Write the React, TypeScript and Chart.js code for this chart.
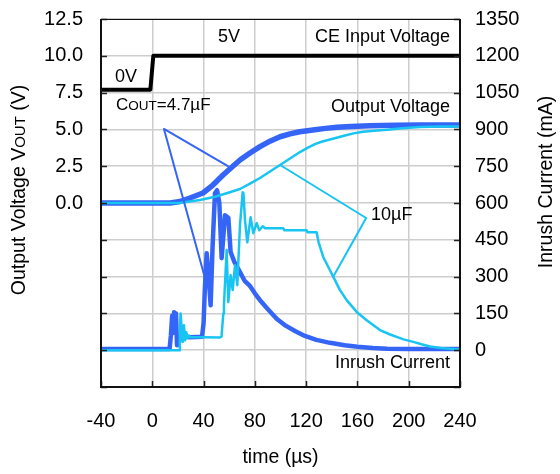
import React, { useEffect, useRef } from 'react';
import { Chart, registerables } from 'chart.js';

Chart.register(...registerables);

// ---------- data ----------
const X_TICKS = [-40, 0, 40, 80, 120, 160, 200, 240];

// CE input voltage (V, left axis)
const CE_T = [-40, -1.5, 0.8, 240];
const CE_V = [7.7, 7.7, 10, 10];

// Output voltage, COUT = 4.7 µF (V, left axis)
const VOUT47_T = [-40, 14, 21.6, 29.4, 39.5, 47.3, 55.2, 62.2, 68.4, 76.2, 84, 91.8, 99.6, 107.4, 115, 125.3, 135, 144, 155, 169.8, 190, 208.8, 240];
const VOUT47_V = [0, 0, 0.1, 0.34, 0.68, 1.22, 1.9, 2.45, 2.92, 3.4, 3.83, 4.2, 4.5, 4.7, 4.84, 4.96, 5.07, 5.15, 5.2, 5.25, 5.28, 5.3, 5.3];

// Output voltage, COUT = 10 µF (V, left axis)
const VOUT10_T = [-40, 21, 37.2, 48.9, 58, 68.4, 76.2, 84, 91.8, 99.6, 107.4, 115.2, 121, 126.9, 132, 138.6, 150.3, 157, 164.4, 173, 183.1, 195, 208.8, 225, 240];
const VOUT10_V = [0, 0, 0.2, 0.42, 0.66, 0.95, 1.32, 1.7, 2.14, 2.58, 3.02, 3.46, 3.75, 4.0, 4.16, 4.31, 4.59, 4.73, 4.84, 4.91, 4.98, 5.08, 5.16, 5.19, 5.2];

// Inrush current, COUT = 4.7 µF (mA, right axis)
const INR47_T = [-40, 13.5, 14.5, 15.5, 16.3, 17, 17.8, 18.5, 19.3, 20.5, 22, 23.5, 30, 38.8, 40, 41, 42.4, 44, 45.5, 47, 48.9, 50.5, 52.3, 54.1, 56.7, 59.3, 61.1, 64, 68.4, 72, 76.2, 80, 84, 90, 97, 104, 112, 119, 128, 138.6, 150, 160, 172, 183, 200, 240];
const INR47_I = [5, 5, 60, 140, 70, 155, 90, 150, 20, 60, 45, 55, 53, 55, 110, 250, 395, 300, 183, 420, 640, 652, 600, 375, 550, 540, 400, 360, 318, 283, 262, 232, 204, 168, 128, 100, 76, 58, 42, 30, 20, 14, 9, 6, 5, 5];

// Inrush current, COUT = 10 µF (mA, right axis)
const INR10_T = [-40, 21, 21.5, 22.1, 22.9, 23.7, 24.7, 25.6, 26.5, 27.5, 28.5, 29.5, 40, 52.8, 54, 55.4, 55.9, 58, 59.3, 61.1, 62.7, 64.5, 66.3, 68.4, 70.5, 71.1, 72.3, 74.1, 76.7, 78.8, 81.4, 83.5, 86.1, 88, 102.2, 103, 120.4, 121, 128.2, 129.7, 133.4, 138.6, 141.2, 146.4, 151.6, 159.4, 167.2, 177.6, 185, 190.6, 196, 203.6, 210, 216.6, 225, 240];
const INR10_I = [0, 0, 80, 150, 90, 33, 102, 40, 73, 50, 60, 53, 53, 52, 55, 150, 183, 408, 196, 306, 245, 346, 265, 510, 644, 640, 530, 440, 542, 477, 518, 489, 505, 497, 497, 489, 489, 481, 481, 440, 379, 326, 299, 245, 204, 156, 122, 82, 65, 54, 44, 34, 24, 15, 9, 3];

// ---------- styling ----------
const FONT = "'Liberation Sans', Arial, Helvetica, sans-serif";
const DARK = '#3565f7';
const CYAN = '#18c4f2';
const GRID = '#cdcdcd';

const pts = (t: number[], v: number[]) => t.map((x, i) => ({ x, y: v[i] }));

// text labels / pointer lines, in data coordinates (t in µs, left-axis volts)
const overlay = {
  id: 'overlay',
  afterDatasetsDraw(chart: any) {
    const ctx = chart.ctx;
    const xs = chart.scales.x;
    const ys = chart.scales.y;
    const px = (t: number) => xs.getPixelForValue(t);
    const py = (v: number) => ys.getPixelForValue(v);
    ctx.save();
    ctx.lineCap = 'round';
    // COUT = 4.7 µF pointers
    ctx.strokeStyle = DARK;
    ctx.lineWidth = 2;
    ctx.beginPath();
    ctx.moveTo(px(9.1), py(5.03));
    ctx.lineTo(px(59.0), py(2.51));
    ctx.moveTo(px(9.1), py(5.03));
    ctx.lineTo(px(41.1), py(-5.1));
    ctx.stroke();
    // 10 µF pointers
    ctx.strokeStyle = CYAN;
    ctx.beginPath();
    ctx.moveTo(px(99.7), py(2.58));
    ctx.lineTo(px(166.8), py(-1.02));
    ctx.lineTo(px(141.0), py(-5.03));
    ctx.stroke();

    ctx.fillStyle = '#000';
    ctx.textBaseline = 'middle';
    ctx.font = `18px ${FONT}`;
    ctx.textAlign = 'left';
    ctx.fillText('5V', px(51.2), py(11.28));
    ctx.fillText('0V', px(-29), py(8.56));
    ctx.fillText('10µF', px(170.6), py(-0.82));
    ctx.textAlign = 'right';
    ctx.fillText('CE Input Voltage', px(232.2), py(11.28));
    ctx.fillText('Output Voltage', px(232.2), py(6.52));
    ctx.fillText('Inrush Current', px(232.2), py(-10.87));

    // COUT=4.7µF with small-caps OUT
    ctx.textAlign = 'left';
    ctx.textBaseline = 'alphabetic';
    let x = px(-28.3);
    const yb = py(6.79) + 6.5;
    ctx.font = `17px ${FONT}`;
    ctx.fillText('C', x, yb);
    x += ctx.measureText('C').width;
    ctx.font = `13.5px ${FONT}`;
    ctx.fillText('OUT', x, yb);
    x += ctx.measureText('OUT').width;
    ctx.font = `17px ${FONT}`;
    ctx.fillText('=4.7µF', x, yb);
    ctx.restore();
  },
  afterDraw(chart: any) {
    const ctx = chart.ctx;
    const { left, right, top, bottom } = chart.chartArea;
    ctx.save();
    // inward tick marks
    ctx.strokeStyle = '#222';
    ctx.lineWidth = 1.5;
    ctx.beginPath();
    chart.scales.y.ticks.forEach((tk: any) => {
      const y = Math.round(chart.scales.y.getPixelForValue(tk.value)) + 0.5;
      ctx.moveTo(left, y);
      ctx.lineTo(left + 6, y);
    });
    chart.scales.y1.ticks.forEach((tk: any) => {
      const y = Math.round(chart.scales.y1.getPixelForValue(tk.value)) + 0.5;
      ctx.moveTo(right - 6, y);
      ctx.lineTo(right, y);
    });
    chart.scales.x.ticks.forEach((tk: any) => {
      const x = Math.round(chart.scales.x.getPixelForValue(tk.value)) + 0.5;
      ctx.moveTo(x, bottom);
      ctx.lineTo(x, bottom - 6);
    });
    ctx.stroke();
    // frame
    ctx.strokeStyle = '#111';
    ctx.lineWidth = 1;
    ctx.beginPath();
    ctx.moveTo(left, top + 0.5);
    ctx.lineTo(right, top + 0.5);
    ctx.stroke();
    ctx.lineWidth = 2;
    ctx.beginPath();
    ctx.moveTo(left, top);
    ctx.lineTo(left, bottom);
    ctx.lineTo(right, bottom);
    ctx.lineTo(right, top);
    ctx.stroke();

    // axis titles
    ctx.fillStyle = '#000';
    ctx.textBaseline = 'middle';
    ctx.save();
    ctx.translate(18, 190);
    ctx.rotate(-Math.PI / 2);
    const f1 = `19.5px ${FONT}`;
    const f2 = `15px ${FONT}`;
    const parts: [string, string][] = [['Output Voltage V', f1], ['OUT', f2], [' (V)', f1]];
    let w = 0;
    parts.forEach(([s, f]) => { ctx.font = f; w += ctx.measureText(s).width; });
    let x = -w / 2;
    ctx.textAlign = 'left';
    ctx.textBaseline = 'alphabetic';
    parts.forEach(([s, f]) => {
      ctx.font = f;
      ctx.fillText(s, x, 7);
      x += ctx.measureText(s).width;
    });
    ctx.restore();
    ctx.save();
    ctx.translate(547, 182);
    ctx.rotate(-Math.PI / 2);
    ctx.font = `19.5px ${FONT}`;
    ctx.textAlign = 'center';
    ctx.fillText('Inrush Current (mA)', 0, 0);
    ctx.restore();
    ctx.font = `19.5px ${FONT}`;
    ctx.textAlign = 'center';
    ctx.fillText('time (µs)', (left + right) / 2, 458);
    ctx.restore();
  },
};

export default function App() {
  const ref = useRef<HTMLCanvasElement>(null);
  useEffect(() => {
    const tickFont = { family: FONT, size: 20 };
    const chart = new Chart(ref.current as HTMLCanvasElement, {
      type: 'line',
      data: {
        datasets: [
          { label: 'CE Input Voltage', data: pts(CE_T, CE_V), yAxisID: 'y', borderColor: '#000', borderWidth: 4, order: 0 },
          { label: 'Output Voltage 10µF', data: pts(VOUT10_T, VOUT10_V), yAxisID: 'y', borderColor: CYAN, borderWidth: 2.5, order: 1 },
          { label: 'Inrush Current 10µF', data: pts(INR10_T, INR10_I), yAxisID: 'y1', borderColor: CYAN, borderWidth: 2.5, order: 2 },
          { label: 'Output Voltage 4.7µF', data: pts(VOUT47_T, VOUT47_V), yAxisID: 'y', borderColor: DARK, borderWidth: 5.5, order: 3 },
          { label: 'Inrush Current 4.7µF', data: pts(INR47_T, INR47_I), yAxisID: 'y1', borderColor: DARK, borderWidth: 4.5, order: 4 },
        ] as any,
      },
      options: {
        responsive: false,
        animation: false,
        devicePixelRatio: 1,
        layout: { padding: { top: 19, left: 0, right: 0, bottom: 0 } },
        elements: { point: { radius: 0 }, line: { tension: 0, borderJoinStyle: 'round', borderCapStyle: 'butt' } },
        plugins: { legend: { display: false }, tooltip: { enabled: false } },
        scales: {
          x: {
            type: 'linear',
            min: -40,
            max: 240,
            afterBuildTicks: (s: any) => { s.ticks = X_TICKS.map((v) => ({ value: v })); },
            ticks: { padding: 22, color: '#000', font: tickFont, maxRotation: 0, autoSkip: false, callback: (v: any) => String(v) },
            grid: { color: GRID, lineWidth: 1.5, drawTicks: false },
            border: { display: false },
            afterFit: (s: any) => { s.height = 87; s.paddingLeft = 0; s.paddingRight = 0; },
          },
          y: {
            type: 'linear',
            position: 'left',
            min: -12.5,
            max: 12.5,
            ticks: { stepSize: 2.5, padding: 18, color: '#000', font: tickFont, autoSkip: false, callback: (v: any) => (v < 0 ? '' : Number(v).toFixed(1)) },
            grid: { color: GRID, lineWidth: 1.5, drawTicks: false },
            border: { display: false },
            afterFit: (s: any) => { s.width = 101; s.paddingTop = 0; s.paddingBottom = 0; },
          },
          y1: {
            type: 'linear',
            position: 'right',
            min: -150,
            max: 1350,
            ticks: { stepSize: 150, padding: 15, color: '#000', font: tickFont, autoSkip: false, callback: (v: any) => (v < 0 ? '' : String(v)) },
            grid: { display: false, drawTicks: false },
            border: { display: false },
            afterFit: (s: any) => { s.width = 100; s.paddingTop = 0; s.paddingBottom = 0; },
          },
        },
      } as any,
      plugins: [overlay],
    });
    return () => chart.destroy();
  }, []);
  return (
    <div style={{ position: 'fixed', left: 0, top: 0, width: 560, height: 474, background: '#fff' }}>
      <canvas ref={ref} width={560} height={474} style={{ display: 'block', width: 560, height: 474 }} />
    </div>
  );
}
